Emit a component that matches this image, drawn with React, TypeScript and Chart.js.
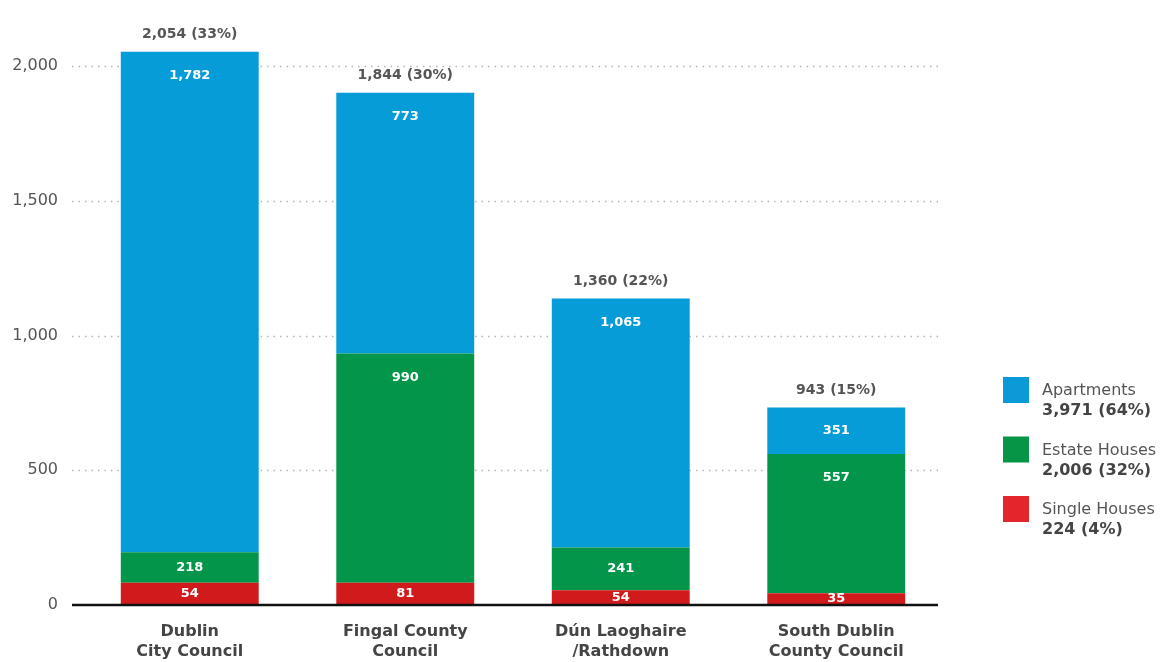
import React, { useEffect, useRef } from "react";
import { Chart, registerables } from "chart.js";

Chart.register(...registerables);

const categories: string[][] = [
  ["Dublin", "City Council"],
  ["Fingal County", "Council"],
  ["Dún Laoghaire", "/Rathdown"],
  ["South Dublin", "County Council"],
];

// segment heights as drawn in the picture
const singleHouses = [83, 83, 55, 44];
const estateHouses = [113, 850, 158, 516];
const apartments = [1857, 968, 924, 173];

// printed labels
const singleLabels = ["54", "81", "54", "35"];
const estateLabels = ["218", "990", "241", "557"];
const apartmentLabels = ["1,782", "773", "1,065", "351"];
const totalLabels = ["2,054 (33%)", "1,844 (30%)", "1,360 (22%)", "943 (15%)"];

const yTicks = [0, 500, 1000, 1500, 2000];

const legendNames = ["Apartments", "Estate Houses", "Single Houses"];
const legendTotals = ["3,971 (64%)", "2,006 (32%)", "224 (4%)"];

const FONT = "'DejaVu Sans', 'Noto Sans', sans-serif";
const BLUE = "#069cd8";
const GREEN = "#03964a";
const RED = "#d11a1c";
const LEGEND_COLORS = ["#0a9ad8", "#069446", "#e3262b"];

export default function App() {
  const ref = useRef<HTMLCanvasElement | null>(null);

  useEffect(() => {
    if (!ref.current) return;

    const overlay = {
      id: "overlay",
      beforeDatasetsDraw(chart: any) {
        const { ctx, chartArea } = chart;
        const y = chart.scales.y;
        ctx.save();
        ctx.strokeStyle = "#b5b5b5";
        ctx.lineWidth = 1.5;
        ctx.setLineDash([1.5, 5]);
        yTicks.forEach((v) => {
          if (v === 0) return;
          const py = Math.round(y.getPixelForValue(v)) + 0.5;
          ctx.beginPath();
          ctx.moveTo(chartArea.left - 10, py);
          ctx.lineTo(chartArea.right - 6, py);
          ctx.stroke();
        });
        ctx.restore();
      },
      afterDatasetsDraw(chart: any) {
        const { ctx, chartArea } = chart;
        const yScale = chart.scales.y;
        ctx.save();
        // baseline
        const by = yScale.getPixelForValue(0);
        ctx.strokeStyle = "#111";
        ctx.lineWidth = 2.5;
        ctx.beginPath();
        ctx.moveTo(chartArea.left - 10, by);
        ctx.lineTo(chartArea.right - 6, by);
        ctx.stroke();

        const labelSets = [singleLabels, estateLabels, apartmentLabels];
        ctx.textAlign = "center";
        ctx.textBaseline = "middle";
        ctx.fillStyle = "#ffffff";
        ctx.font = `bold 13px ${FONT}`;
        chart.data.datasets.forEach((ds: any, di: number) => {
          const meta = chart.getDatasetMeta(di);
          meta.data.forEach((bar: any, i: number) => {
            const top = Math.min(bar.y, bar.base);
            const bottom = Math.max(bar.y, bar.base);
            const h = bottom - top;
            let ly;
            if (di === 0) ly = top + h / 2;
            else ly = top + Math.min(h / 2, 24);
            ctx.fillText(labelSets[di][i], bar.x, ly);
          });
        });

        // totals
        const topMeta = chart.getDatasetMeta(2);
        ctx.fillStyle = "#555";
        ctx.font = `600 14px ${FONT}`;
        topMeta.data.forEach((bar: any, i: number) => {
          ctx.fillText(totalLabels[i], bar.x, Math.min(bar.y, bar.base) - 17);
        });

        // legend
        const lx = chart.width - 163;
        const startY = 377;
        const gap = 59.5;
        legendNames.forEach((name, i) => {
          const y0 = startY + i * gap;
          ctx.fillStyle = LEGEND_COLORS[i];
          ctx.fillRect(lx, y0, 26, 26);
          ctx.textAlign = "left";
          ctx.textBaseline = "middle";
          ctx.fillStyle = "#555";
          ctx.font = `16px ${FONT}`;
          ctx.fillText(name, lx + 39, y0 + 14);
          ctx.fillStyle = "#444";
          ctx.font = `bold 16px ${FONT}`;
          ctx.fillText(legendTotals[i], lx + 39, y0 + 34);
        });
        ctx.restore();
      },
    };

    const chart = new Chart(ref.current, {
      type: "bar",
      data: {
        labels: categories,
        datasets: [
          { label: "Single Houses", data: singleHouses, backgroundColor: RED },
          { label: "Estate Houses", data: estateHouses, backgroundColor: GREEN },
          { label: "Apartments", data: apartments, backgroundColor: BLUE },
        ],
      },
      options: {
        animation: false,
        responsive: true,
        maintainAspectRatio: false,
        datasets: {
          bar: { barPercentage: 0.64, categoryPercentage: 1, borderWidth: 0, clip: false },
        },
        layout: { padding: { left: 8, right: 222, top: 66, bottom: 0 } },
        plugins: {
          legend: { display: false },
          tooltip: { enabled: false },
        },
        scales: {
          x: {
            stacked: true,
            grid: { display: false, drawTicks: false },
            border: { display: false },
            afterFit(scale: any) {
              scale.height = 57;
            },
            ticks: {
              padding: 17,
              color: "#444",
              font: { family: FONT, size: 16, weight: "bold", lineHeight: 1.25 },
              maxRotation: 0,
              autoSkip: false,
            },
          },
          y: {
            stacked: true,
            min: 0,
            max: 2000,
            grid: { display: false, drawTicks: false },
            border: { display: false },
            afterFit(scale: any) {
              scale.width = 74;
            },
            afterBuildTicks(scale: any) {
              scale.ticks = yTicks.map((v) => ({ value: v }));
            },
            ticks: {
              padding: 24,
              color: "#555",
              font: { family: FONT, size: 16 },
              callback: (v: any) => Number(v).toLocaleString("en-US"),
            },
          },
        },
      },
      plugins: [overlay],
    });

    return () => chart.destroy();
  }, []);

  return (
    <div style={{ position: "fixed", left: 0, top: 0, width: 1166, height: 662, background: "#fff" }}>
      <canvas ref={ref} />
    </div>
  );
}
